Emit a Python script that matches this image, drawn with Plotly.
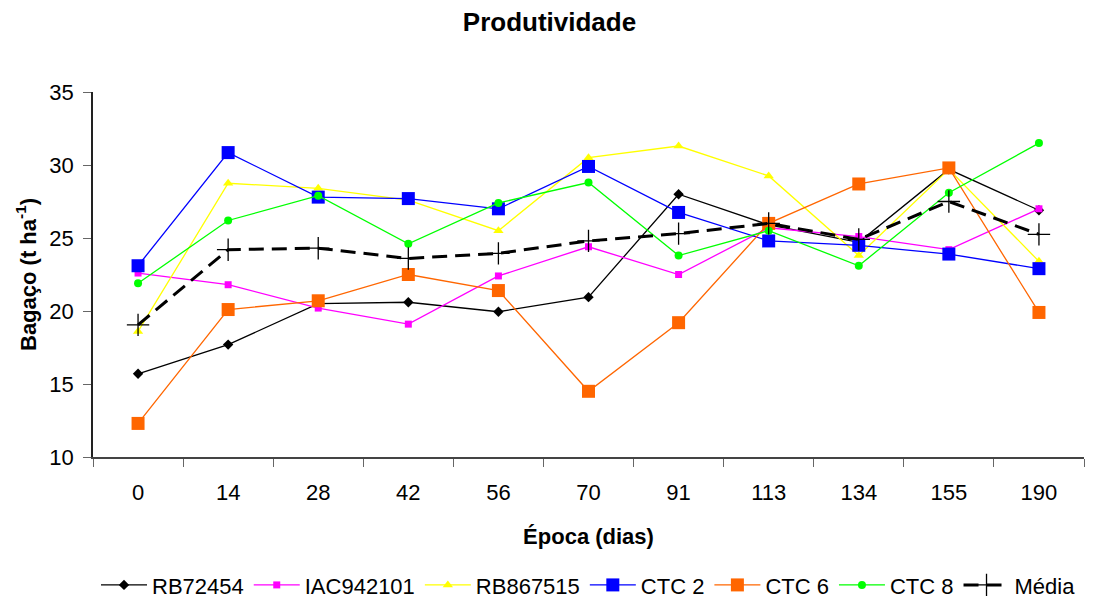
import plotly.graph_objects as go

epocas = ["0", "14", "28", "42", "56", "70", "91", "113", "134", "155", "190"]
rb72454 = [15.7, 17.7, 20.5, 20.6, 19.95, 20.95, 28.0, 25.9, 24.7, 29.7, 26.9]
iac942101 = [22.6, 21.8, 20.2, 19.1, 22.4, 24.4, 22.5, 25.7, 25.1, 24.2, 27.0]
rb867515 = [18.6, 28.75, 28.4, 27.6, 25.5, 30.5, 31.3, 29.25, 23.8, 29.7, 23.4]
ctc2 = [23.1, 30.85, 27.8, 27.7, 27.0, 29.9, 26.75, 24.8, 24.5, 23.9, 22.9]
ctc6 = [12.3, 20.1, 20.7, 22.5, 21.4, 14.5, 19.2, 26.0, 28.7, 29.8, 19.9]
ctc8 = [21.9, 26.2, 27.9, 24.6, 27.4, 28.8, 23.8, 25.5, 23.1, 28.1, 31.5]
media = [19.05, 24.2, 24.3, 23.6, 23.95, 24.8, 25.3, 26.0, 24.9, 27.5, 25.25]

series = [
    ("RB72454", rb72454, "#000000", "diamond", 8),
    ("IAC942101", iac942101, "#FF00FF", "square", 7),
    ("RB867515", rb867515, "#FFFF00", "triangle-up", 9),
    ("CTC 2", ctc2, "#0000FF", "square", 13),
    ("CTC 6", ctc6, "#FF6600", "square", 13),
    ("CTC 8", ctc8, "#00FF00", "circle", 8),
]

fig = go.Figure()
for name, vals, color, sym, size in series:
    fig.add_trace(go.Scatter(
        x=epocas, y=vals, name=name, mode="lines+markers",
        line=dict(color=color, width=1.3),
        marker=dict(symbol=sym, size=size, color=color),
    ))
fig.add_trace(go.Scatter(
    x=epocas, y=media, name="Média", mode="lines+markers",
    line=dict(color="#000000", width=3, dash="15px,8px"),
    marker=dict(symbol="cross-thin", size=16, color="#000000",
                line=dict(color="#000000", width=1.3)),
))

font = "Liberation Sans, Arial, sans-serif"
fig.update_layout(
    width=1099, height=601,
    margin=dict(l=93, r=15, t=92, b=144, autoexpand=False),
    paper_bgcolor="white", plot_bgcolor="white",
    font=dict(family=font, size=22, color="black"),
    title=dict(text="<b>Produtividade</b>", x=0.5, xanchor="center",
               y=1 - 22 / 601, yanchor="middle", font=dict(size=26)),
    xaxis=dict(
        type="category", range=[-0.5, 10.5], tickson="boundaries",
        ticks="outside", ticklen=8, ticklabelstandoff=15,
        tickcolor="#666666", showline=True, linecolor="#444444", linewidth=1.5,
        showgrid=False, zeroline=False,
        title=dict(text="<b>Época (dias)</b>", font=dict(size=22), standoff=24),
        tickfont=dict(size=22),
    ),
    yaxis=dict(
        range=[10, 35], dtick=5, ticks="outside", ticklen=8, ticklabelstandoff=5,
        tickcolor="#666666", showline=True, linecolor="#222222", linewidth=1.5,
        showgrid=False, zeroline=False,
        title=dict(text="<b>Bagaço (t ha<sup>-1</sup>)</b>", font=dict(size=22), standoff=7),
        tickfont=dict(size=22),
    ),
    legend=dict(orientation="h", x=0.5, xanchor="center", y=-0.351, yanchor="middle",
                font=dict(size=22), itemwidth=46, tracegroupgap=0),
    showlegend=True,
)

fig.write_html("out.html")
